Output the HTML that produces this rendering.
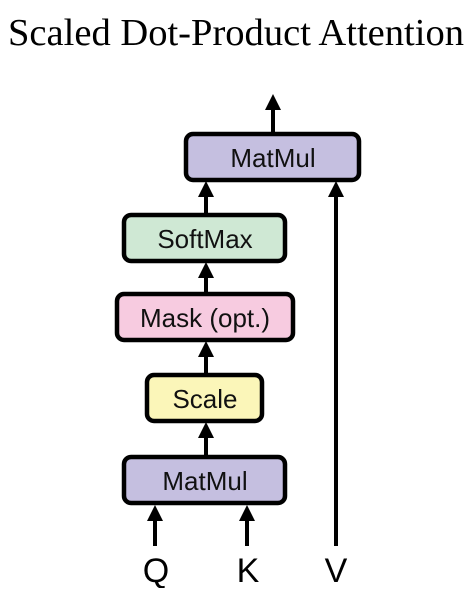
<!DOCTYPE html>
<html><head><style>
body{margin:0;background:#fff;width:473px;height:588px;overflow:hidden}
</style></head><body>
<svg width="473" height="588" xmlns="http://www.w3.org/2000/svg">
<defs><marker id="a" markerWidth="4" markerHeight="4" refX="2" refY="2" orient="auto" markerUnits="strokeWidth"><path d="M0,0 L4,2 L0,4 Z" fill="#000"/></marker></defs>
<text x="236" y="45" text-anchor="middle" font-family="Liberation Serif" font-size="38" fill="#000" textLength="456" lengthAdjust="spacingAndGlyphs">Scaled Dot-Product Attention</text>
<g stroke="#000" stroke-width="4" fill="none">
<line x1="273" y1="132" x2="273" y2="102" marker-end="url(#a)"/>
<line x1="206" y1="213" x2="206" y2="189" marker-end="url(#a)"/>
<line x1="206" y1="292" x2="206" y2="270" marker-end="url(#a)"/>
<line x1="206" y1="373" x2="206" y2="349" marker-end="url(#a)"/>
<line x1="206" y1="455" x2="206" y2="430" marker-end="url(#a)"/>
<line x1="155" y1="546" x2="155" y2="513" marker-end="url(#a)"/>
<line x1="247" y1="546" x2="247" y2="513" marker-end="url(#a)"/>
<line x1="336" y1="546" x2="336" y2="189" marker-end="url(#a)"/>
</g>
<g stroke="#000" stroke-width="4.5">
<rect x="186" y="134" width="173" height="46" rx="7" fill="#c5bfe0"/>
<rect x="124" y="215" width="161" height="46" rx="7" fill="#cfe8d4"/>
<rect x="117" y="294" width="176" height="46" rx="7" fill="#f7cbe0"/>
<rect x="147" y="375" width="115" height="46" rx="7" fill="#fbf6b9"/>
<rect x="124" y="457" width="161" height="46" rx="7" fill="#c5bfe0"/>
</g>
<g font-family="Liberation Sans" font-size="26" text-anchor="middle" fill="#111">
<text x="273" y="167">MatMul</text>
<text x="205" y="248">SoftMax</text>
<text x="205" y="327">Mask (opt.)</text>
<text x="205" y="408">Scale</text>
<text x="205" y="490">MatMul</text>
</g>
<g font-family="Liberation Sans" font-size="34" text-anchor="middle" fill="#000">
<text x="156" y="582">Q</text>
<text x="248" y="582">K</text>
<text x="336" y="582">V</text>
</g>
</svg>
</body></html>
